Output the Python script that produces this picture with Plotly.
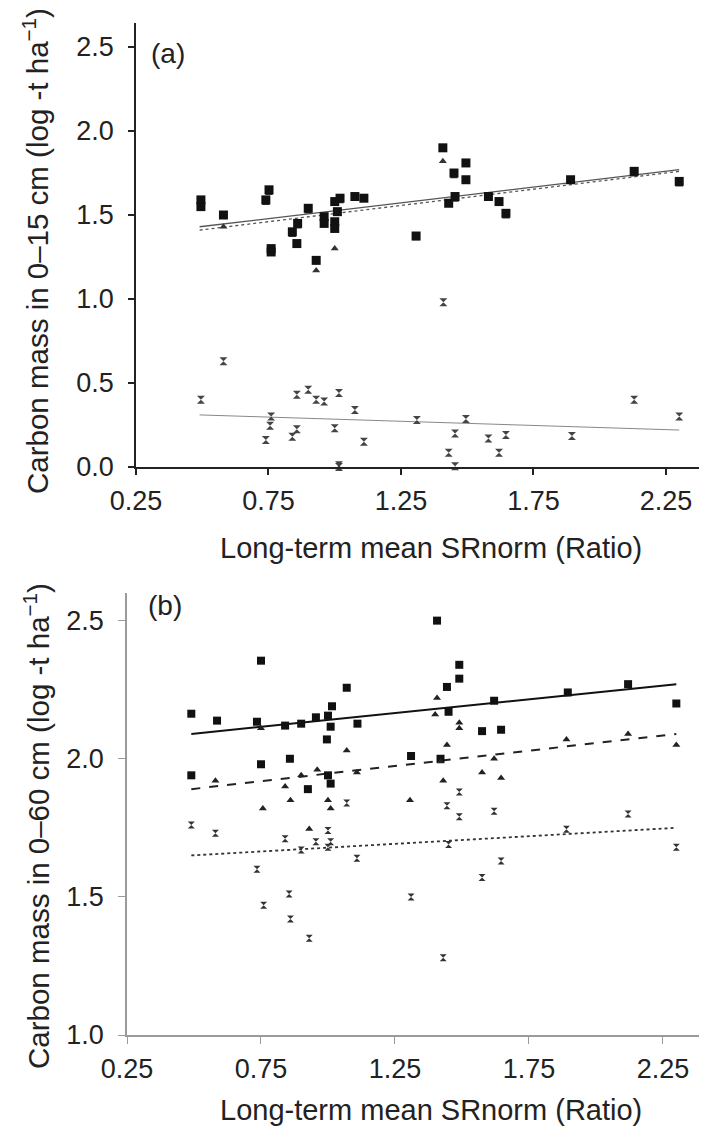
import plotly.graph_objects as go

# ---------------- Panel (a): carbon mass 0-15 cm ----------------
a_sq_x = [0.495, 0.495, 0.58, 0.74, 0.752, 0.76, 0.76, 0.84, 0.86, 0.857, 0.90, 0.93,
          0.96, 0.96, 1.0, 1.02, 1.01, 1.0, 1.0, 1.076, 1.11, 1.307, 1.408, 1.45,
          1.495, 1.495, 1.454, 1.43, 1.58, 1.62, 1.646, 1.89, 2.13, 2.30]
a_sq_y = [1.59, 1.55, 1.50, 1.59, 1.65, 1.30, 1.28, 1.40, 1.45, 1.33, 1.54, 1.23,
          1.49, 1.45, 1.58, 1.60, 1.52, 1.46, 1.42, 1.61, 1.60, 1.375, 1.90, 1.75,
          1.81, 1.71, 1.61, 1.57, 1.61, 1.58, 1.51, 1.71, 1.76, 1.70]

a_tri_x = [0.495, 0.58, 0.74, 0.752, 0.76, 0.84, 0.86, 0.90, 0.93, 0.96, 1.0, 1.02,
           1.0, 1.076, 1.11, 1.307, 1.408, 1.45, 1.495, 1.454, 1.58, 1.62, 1.646,
           1.89, 2.13, 2.30]
a_tri_y = [1.54, 1.43, 1.57, 1.63, 1.27, 1.38, 1.43, 1.52, 1.17, 1.46, 1.30, 1.58,
           1.44, 1.60, 1.59, 1.36, 1.82, 1.73, 1.70, 1.59, 1.60, 1.57, 1.49,
           1.70, 1.74, 1.68]

a_cr_x = [0.495, 0.58, 0.74, 0.756, 0.76, 0.84, 0.857, 0.857, 0.90, 0.93, 0.96, 1.0,
          1.016, 1.016, 1.016, 1.076, 1.11, 1.31, 1.41, 1.43, 1.454, 1.454, 1.495,
          1.58, 1.62, 1.646, 1.895, 2.13, 2.30]
a_cr_y = [0.40, 0.63, 0.16, 0.245, 0.30, 0.18, 0.43, 0.225, 0.46, 0.40, 0.39, 0.23,
          0.44, 0.0, 0.01, 0.34, 0.15, 0.28, 0.98, 0.085, 0.20, 0.005, 0.285,
          0.17, 0.085, 0.19, 0.185, 0.40, 0.30]

fit_x = [0.49, 2.30]
a_fit_sq = [1.43, 1.77]
a_fit_tri = [1.41, 1.76]
a_fit_cr = [0.31, 0.22]

# ---------------- Panel (b): carbon mass 0-60 cm ----------------
b_sq_x = [0.49, 0.586, 0.735, 0.75, 0.84, 0.90, 0.955, 1.0, 1.015, 1.01, 0.996,
          1.07, 1.11, 1.407, 1.49, 1.49, 1.444, 1.45, 1.62, 1.895, 2.12, 2.30,
          1.575, 1.646, 1.31, 1.42, 0.49, 0.75, 0.858, 0.925, 1.0, 1.01]
b_sq_y = [2.163, 2.138, 2.134, 2.355, 2.12, 2.127, 2.15, 2.156, 2.19, 2.116, 2.07,
          2.257, 2.127, 2.50, 2.34, 2.29, 2.26, 2.17, 2.21, 2.24, 2.27, 2.20,
          2.10, 2.105, 2.01, 2.0, 1.94, 1.98, 2.0, 1.89, 1.94, 1.91]

b_tri_x = [0.58, 0.757, 0.84, 0.86, 0.90, 0.93, 0.96, 1.0, 1.01, 1.07, 1.108,
           1.306, 1.40, 1.407, 1.43, 1.444, 1.49, 1.49, 1.575, 1.646, 1.62, 1.42,
           1.89, 2.12, 2.30, 0.75]
b_tri_y = [1.92, 1.82, 1.90, 1.85, 1.94, 1.746, 1.96, 1.85, 1.82, 2.03, 1.95,
           1.85, 2.16, 2.22, 1.92, 2.05, 2.13, 2.11, 1.95, 1.93, 2.0, 1.99,
           2.07, 2.09, 2.05, 2.11]

b_cr_x = [0.49, 0.58, 0.735, 0.76, 0.84, 0.855, 0.86, 0.90, 0.93, 0.955, 1.0, 1.0,
          1.01, 1.07, 1.108, 1.31, 1.43, 1.444, 1.45, 1.49, 1.49, 1.575, 1.62,
          1.646, 1.89, 2.12, 2.30]
b_cr_y = [1.76, 1.73, 1.60, 1.47, 1.71, 1.51, 1.42, 1.67, 1.35, 1.70, 1.74, 1.68,
          1.70, 1.84, 1.64, 1.50, 1.28, 1.83, 1.69, 1.88, 1.79, 1.57, 1.81,
          1.63, 1.745, 1.80, 1.68]

b_fit_sq = [2.09, 2.27]
b_fit_tri = [1.89, 2.09]
b_fit_cr = [1.65, 1.75]

x_ticks = [0.25, 0.75, 1.25, 1.75, 2.25]
x_ticklabels = ["0.25", "0.75", "1.25", "1.75", "2.25"]
a_yticks = [0.0, 0.5, 1.0, 1.5, 2.0, 2.5]
a_yticklabels = ["0.0", "0.5", "1.0", "1.5", "2.0", "2.5"]
b_yticks = [1.0, 1.5, 2.0, 2.5]
b_yticklabels = ["1.0", "1.5", "2.0", "2.5"]

W, H = 707, 1126
TXT = "#222222"
FONT = "Liberation Sans, Arial, Helvetica, sans-serif"

fig = go.Figure()

def pts(x, y, sym, size, color, xa, ya, lw=0):
    fig.add_trace(go.Scatter(x=x, y=y, mode="markers", xaxis=xa, yaxis=ya,
                             cliponaxis=False,
                             marker=dict(symbol=sym, size=size, color=color,
                                         line=dict(width=lw, color=color))))

def line(x, y, dash, width, color, xa, ya):
    fig.add_trace(go.Scatter(x=x, y=y, mode="lines", xaxis=xa, yaxis=ya,
                             line=dict(dash=dash, width=width, color=color)))

# panel (a)
line(fit_x, a_fit_sq, "solid", 1.3, "#555555", "x", "y")
line(fit_x, a_fit_tri, "dot", 1.3, "#555555", "x", "y")
line(fit_x, a_fit_cr, "solid", 1.0, "#888888", "x", "y")
pts(a_tri_x, a_tri_y, "triangle-up", 7, "#333333", "x", "y")
pts(a_sq_x, a_sq_y, "square", 9, "#111111", "x", "y")
pts(a_cr_x, a_cr_y, "hourglass", 8, "#444444", "x", "y")

# panel (b)
line(fit_x, b_fit_sq, "solid", 2.0, "#111111", "x2", "y2")
line(fit_x, b_fit_tri, "dash", 2.0, "#222222", "x2", "y2")
line(fit_x, b_fit_cr, "dot", 1.8, "#333333", "x2", "y2")
pts(b_sq_x, b_sq_y, "square", 8, "#111111", "x2", "y2")
pts(b_tri_x, b_tri_y, "triangle-up", 7, "#222222", "x2", "y2")
pts(b_cr_x, b_cr_y, "hourglass", 7, "#333333", "x2", "y2")

ax_a = dict(showgrid=False, zeroline=False, showline=True, linecolor="#222222",
            linewidth=1.5, ticks="outside", ticklen=6, tickwidth=1.5, automargin=False,
            tickcolor="#222222", tickfont=dict(size=27, color=TXT, family=FONT))
ax_b = dict(showgrid=False, zeroline=False, showline=True, linecolor="#9a9a9a",
            linewidth=1.5, ticks="outside", ticklen=7, tickwidth=1.2, automargin=False,
            tickcolor="#9a9a9a", tickfont=dict(size=27, color=TXT, family=FONT))

fig.update_layout(
    width=W, height=H, margin=dict(l=0, r=0, t=0, b=0, autoexpand=False),
    paper_bgcolor="white", plot_bgcolor="white", showlegend=False,
    font=dict(family=FONT, size=27, color=TXT),
    xaxis=dict(ax_a, domain=[128 / W, 1.0], range=[0.25, 2.435], anchor="y",
               tickvals=x_ticks, ticktext=x_ticklabels, ticklabelstandoff=3),
    yaxis=dict(ax_a, domain=[1 - 459 / H, 1 - 15 / H], range=[0, 2.643], anchor="x",
               tickvals=a_yticks, ticktext=a_yticklabels, ticklabelstandoff=9),
    xaxis2=dict(ax_b, domain=[119 / W, 697 / W], range=[0.25, 2.407], anchor="y2",
                tickvals=x_ticks, ticktext=x_ticklabels, ticklabelstandoff=2),
    yaxis2=dict(ax_b, domain=[1 - 1027 / H, 1 - 585 / H], range=[1.0, 2.60], anchor="x2",
                tickvals=b_yticks, ticktext=b_yticklabels, ticklabelstandoff=9),
)

ann = [
    dict(text="(a)", x=141 / W, y=1 - 46 / H, xanchor="left", yanchor="middle", size=28),
    dict(text="(b)", x=138 / W, y=1 - 597 / H, xanchor="left", yanchor="middle", size=28),
    dict(text="Long-term mean SRnorm (Ratio)", x=423 / W, y=1 - 540 / H,
         xanchor="center", yanchor="middle", size=29),
    dict(text="Long-term mean SRnorm (Ratio)", x=423 / W, y=1 - 1102 / H,
         xanchor="center", yanchor="middle", size=29),
    dict(text="Carbon mass in 0–15 cm (log -t ha<sup>−1</sup>)", x=27 / W, y=1 - 243 / H,
         xanchor="center", yanchor="middle", textangle=-90, size=29.5),
    dict(text="Carbon mass in 0–60 cm (log -t ha<sup>−1</sup>)", x=28 / W, y=1 - 818 / H,
         xanchor="center", yanchor="middle", textangle=-90, size=29.5),
]
for a in ann:
    sz = a.pop("size")
    fig.add_annotation(xref="paper", yref="paper", showarrow=False,
                       font=dict(size=sz, color=TXT, family=FONT), **a)

fig.write_html("out.html")
